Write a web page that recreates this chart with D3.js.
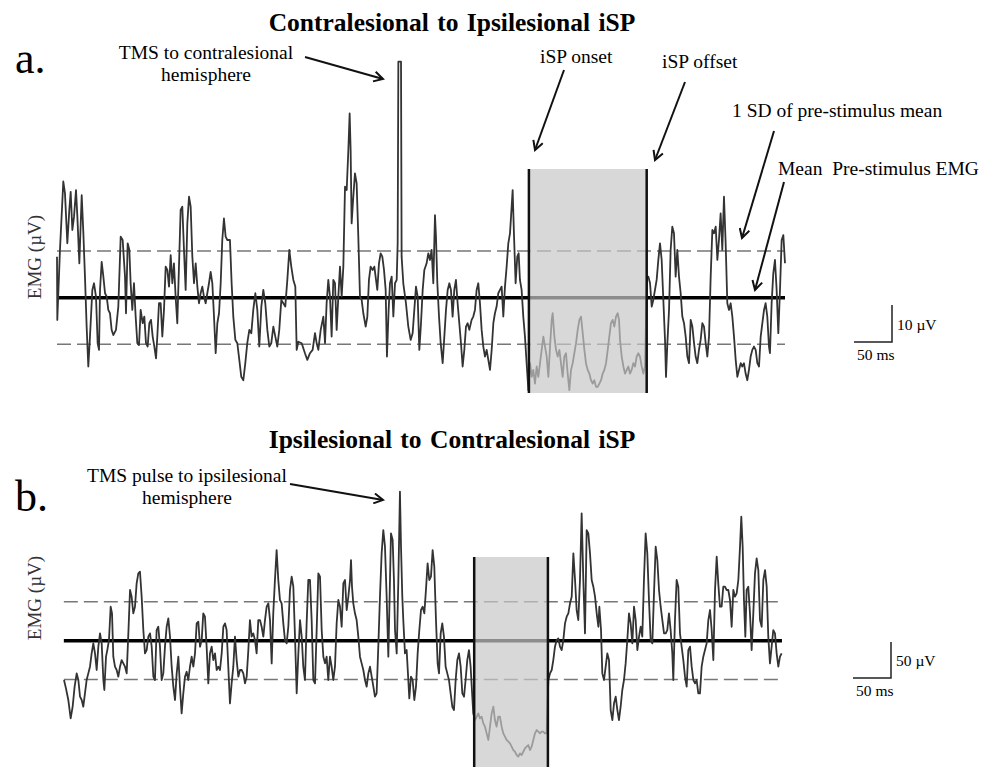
<!DOCTYPE html>
<html>
<head>
<meta charset="utf-8">
<script src="https://cdn.jsdelivr.net/npm/d3@7"></script>
<style>
  body { margin: 0; background: #fff; }
  svg { display: block; font-family: "Liberation Serif", "Times New Roman", serif; }
</style>
</head>
<body>
<svg id="chart" width="989" height="767"></svg>
<script>
// time in ms from start of sweep, EMG in µV relative to the pre-stimulus mean
const emgA = [
  [0,11.1],[0.4,-6.0],[3.9,12.9],[8.3,31.4],[10.5,28.2],[13.6,14.7],[16.2,23.7],[18.0,28.6],[20.2,18.3],[22.4,21.9],
  [25.0,29.1],[26.8,21.9],[29.4,9.3],[32.5,27.7],[34.7,17.4],[36.8,5.7],[39.0,-7.8],[41.2,-18.6],[43.4,-10.5],[46.5,2.1],
  [48.7,3.9],[51.3,0.3],[53.5,-12.3],[55.3,-14.1],[56.6,2.1],[58.8,9.7],[61.0,5.7],[63.2,1.2],[65.4,0.3],[67.5,-3.3],
  [69.7,-4.2],[71.9,-8.7],[74.1,-10.1],[77.6,-8.7],[80.7,-2.4],[83.8,16.5],[86.4,15.6],[89.5,5.7],[90.8,-4.2],[93.0,14.7],
  [95.2,12.9],[96.9,3.9],[99.1,-3.3],[101.3,3.9],[103.5,-5.1],[105.7,-12.3],[107.9,-12.8],[110.1,-3.3],[112.7,-6.9],[114.9,-5.1],
  [117.1,-12.3],[119.3,-13.2],[121.5,-6.9],[123.7,-6.0],[125.9,-10.5],[128.1,-13.2],[130.3,-16.4],[132.0,-10.5],[134.2,-1.5],[136.4,-1.5],
  [138.6,-10.5],[140.8,-3.3],[143.0,8.4],[145.2,7.5],[147.4,3.0],[149.6,11.5],[151.8,3.9],[153.9,9.3],[156.1,0.3],[158.3,-6.9],
  [160.5,8.4],[162.7,23.7],[164.9,24.6],[167.1,12.9],[169.3,2.1],[171.5,20.1],[173.7,27.3],[175.9,24.6],[178.1,11.1],[180.3,3.9],
  [182.5,9.3],[184.7,3.0],[186.8,-1.5],[189.0,1.2],[191.2,3.0],[193.4,0.3],[195.6,-1.5],[197.8,1.2],[200.0,3.9],[202.2,7.0],
  [204.4,3.9],[206.6,-5.1],[208.8,-15.0],[211.0,-6.9],[213.2,-4.2],[215.4,3.9],[217.5,15.6],[219.7,21.4],[221.9,16.5],[224.1,15.6],
  [227.6,15.6],[229.8,3.9],[232.0,-5.1],[234.7,-11.4],[237.3,-12.3],[239.9,-16.8],[242.5,-21.4],[245.2,-22.3],[247.8,-17.7],[250.4,-12.3],
  [253.1,-8.7],[255.7,-9.6],[258.3,-3.3],[261.0,1.2],[263.6,-3.3],[266.2,-13.2],[268.9,-2.4],[271.5,2.1],[274.1,-1.5],[276.8,-8.7],
  [279.4,-13.2],[282.0,-12.3],[284.7,-7.8],[287.3,-10.5],[289.9,-13.2],[292.5,-8.7],[295.2,-0.6],[297.8,-1.5],[300.4,-2.4],[303.1,4.8],
  [305.7,12.9],[308.3,8.4],[311.0,4.8],[313.6,3.0],[315.4,-14.1],[317.6,-11.9],[322.0,-12.3],[326.3,-15.0],[329.4,-16.8],[332.9,-15.0],
  [336.4,-14.1],[339.5,-9.6],[341.7,-12.3],[343.9,-14.1],[347.0,-8.7],[350.5,-5.1],[352.7,-12.3],[354.8,-1.5],[357.0,4.8],[359.2,0.3],
  [361.4,-10.5],[363.6,4.8],[365.8,3.9],[368.0,-8.7],[370.2,0.3],[372.4,8.4],[374.6,0.3],[376.8,8.4],[379.0,30.0],[381.2,29.1],
  [383.4,39.9],[385.1,49.8],[386.4,39.9],[387.7,20.1],[389.9,27.3],[392.1,33.6],[394.3,30.9],[396.5,16.5],[398.7,0.3],[400.9,-0.6],
  [403.1,-4.2],[406.2,-7.8],[408.4,-5.1],[410.5,4.8],[412.7,8.4],[415.4,7.5],[417.6,8.4],[419.8,4.8],[421.5,2.1],[423.7,9.3],
  [425.9,12.0],[428.1,11.1],[430.3,7.5],[432.5,2.1],[434.2,-15.9],[436.4,-3.3],[438.2,3.9],[440.4,5.7],[442.6,-5.1],[444.8,3.9],
  [447.0,4.8],[448.3,14.7],[449.2,63.8],[452.7,63.8],[453.5,11.1],[455.7,3.9],[459.2,-1.5],[462.3,-7.8],[465.4,-11.4],[468.0,-9.6],
  [470.2,-3.3],[472.4,3.0],[474.6,0.3],[476.8,-14.1],[479.0,-6.9],[481.2,2.1],[483.4,7.5],[486.4,9.3],[488.6,12.0],[490.8,10.2],
  [493.0,12.9],[495.2,3.9],[497.4,22.3],[498.7,16.5],[500.5,3.9],[502.7,-5.1],[504.9,-12.3],[507.5,-17.7],[509.7,-10.5],[511.9,-3.3],
  [514.1,2.1],[516.3,3.9],[518.4,2.1],[520.6,-5.1],[522.8,2.1],[525.0,4.8],[527.2,-1.5],[529.4,-6.9],[531.6,-12.3],[533.8,-18.6],
  [536.0,-14.1],[538.2,-7.8],[540.4,-6.9],[542.6,-8.7],[545.6,-6.0],[547.8,-5.1],[550.0,-3.3],[552.2,2.1],[554.4,3.9],[556.6,-1.5],
  [558.8,-8.7],[561.0,-13.2],[563.2,-15.9],[565.4,-14.1],[567.6,-16.8],[569.8,-19.5],[572.0,-14.1],[574.2,-6.9],[576.3,-4.2],[578.5,-2.4],
  [580.7,1.2],[582.9,2.1],[585.1,3.0],[587.3,-5.1],[589.5,3.0],[591.7,8.4],[593.9,14.7],[596.1,17.4],[598.3,24.6],[599.6,29.1],
  [601.3,17.4],[603.5,3.9],[605.7,11.1],[607.5,12.0],[609.2,4.8],[611.4,2.1],[613.6,-5.1],[615.8,-10.5],[618.0,-17.7],[620.3,-25.0],
  [622.5,-17.7],[624.7,-21.4],[626.8,-19.5],[629.0,-23.2],[631.2,-18.6],[633.4,-21.4],[635.6,-17.7],[637.8,-14.1],[640.0,-10.5],[642.2,-13.2],
  [644.4,-15.9],[646.6,-21.4],[648.8,-13.2],[651.0,-6.0],[652.3,-4.2],[654.5,-10.5],[656.7,-14.1],[658.9,-15.9],[661.1,-14.1],[663.2,-17.7],
  [665.4,-21.4],[667.6,-15.9],[669.8,-15.0],[672.0,-20.5],[674.2,-25.0],[676.4,-19.5],[678.6,-17.7],[680.8,-15.0],[683.0,-12.3],[685.2,-8.7],
  [687.4,-6.0],[689.6,-5.1],[691.8,-9.6],[694.0,-14.1],[696.1,-17.7],[698.3,-19.5],[700.5,-20.5],[702.7,-22.3],[704.9,-23.2],[707.1,-22.3],
  [709.3,-24.1],[711.5,-24.1],[713.7,-23.2],[715.9,-22.3],[718.1,-20.5],[720.3,-19.5],[722.5,-17.7],[724.7,-14.1],[726.8,-10.5],[729.0,-6.9],
  [731.2,-6.0],[733.4,-7.8],[735.6,-5.1],[737.8,-4.2],[739.6,-6.0],[740.9,-11.4],[743.1,-15.9],[745.3,-18.6],[747.5,-20.5],[749.7,-19.5],
  [751.8,-18.6],[754.0,-20.5],[756.2,-19.5],[758.4,-17.7],[760.6,-18.6],[762.8,-15.9],[765.0,-15.0],[767.2,-15.9],[769.4,-18.6],[771.6,-20.5],
  [773.8,-18.6],[776.4,5.7],[778.2,5.7],[780.4,3.9],[782.6,-2.4],[784.7,-0.6],[786.9,2.1],[789.1,4.8],[791.3,10.2],[793.5,14.7],
  [795.7,10.2],[797.9,-0.6],[800.1,-11.4],[801.4,-21.4],[803.2,-12.3],[805.4,-3.3],[807.5,12.9],[809.7,19.2],[811.9,17.4],[814.1,5.7],
  [816.3,12.9],[818.5,5.7],[820.7,1.2],[822.9,-5.1],[825.1,-6.9],[827.3,-10.5],[829.5,-15.9],[831.7,-17.7],[833.9,-6.0],[836.1,-7.8],
  [838.3,-12.3],[840.4,-15.9],[842.6,-17.7],[844.8,-14.1],[847.0,-11.4],[849.2,-6.9],[851.4,-7.8],[853.6,-12.3],[855.8,-15.9],[858.0,-10.5],
  [860.2,5.7],[862.4,18.3],[864.6,17.4],[866.8,19.2],[869.0,10.2],[871.1,15.6],[873.3,22.8],[875.5,12.9],[877.7,27.3],[879.9,14.7],
  [882.1,-1.5],[884.3,-3.3],[886.5,-1.5],[888.7,-5.1],[890.9,-10.5],[893.1,-16.8],[895.3,-21.4],[897.5,-19.5],[899.7,-17.7],[901.8,-18.6],
  [904.0,-17.7],[906.2,-20.5],[908.4,-22.3],[910.6,-19.5],[912.8,-15.9],[915.0,-14.1],[917.2,-13.2],[919.4,-14.1],[921.6,-17.7],[923.8,-18.6],
  [926.0,-10.5],[928.2,-6.9],[930.4,-3.3],[932.5,-1.5],[934.7,-5.1],[936.9,-13.2],[938.2,-15.0],[940.4,-1.5],[942.6,6.6],[944.8,10.2],
  [947.0,2.1],[949.2,-9.6],[951.4,2.1],[953.6,15.6],[955.8,16.9],[958.0,9.3]
];

const emgB = [
  [9.2,-54.6],[11.8,-66.2],[14.9,-82.4],[18.0,-107.9],[20.6,-91.7],[23.2,-63.9],[25.9,-45.4],[28.1,-54.6],[30.3,-77.8],[32.5,-82.4],
  [34.6,-91.7],[36.8,-73.1],[39.0,-54.6],[41.2,-45.4],[43.4,-36.1],[45.6,-17.6],[47.8,-3.7],[50.0,-17.6],[52.2,-40.7],[54.4,-8.3],
  [56.6,10.2],[58.8,-3.7],[61.0,-54.6],[62.3,-68.5],[64.5,-22.2],[66.2,-13.0],[68.4,0.9],[70.6,47.2],[72.4,38.0],[74.1,-22.2],
  [76.3,-36.1],[78.5,-40.7],[80.7,-50.0],[82.9,-36.1],[85.1,-26.9],[87.3,-31.5],[89.5,-36.1],[91.7,-45.4],[93.9,10.2],[96.1,70.4],
  [98.2,61.1],[100.4,38.0],[102.6,47.2],[104.8,79.6],[107.0,93.5],[109.2,95.8],[111.4,61.1],[113.6,14.8],[115.8,-17.6],[118.0,-13.0],
  [120.2,5.6],[122.4,10.2],[124.6,-8.3],[126.8,-50.0],[128.9,-54.6],[131.1,14.8],[133.3,19.4],[135.5,-8.3],[137.7,-54.6],[139.9,-45.4],
  [142.1,-8.3],[144.3,19.4],[146.5,31.0],[148.7,5.6],[150.9,-36.1],[153.1,-63.9],[155.3,-82.4],[157.5,-45.4],[159.7,-22.2],[161.8,-63.9],
  [164.0,-100.9],[166.2,-73.1],[168.4,-50.0],[170.6,-43.1],[172.8,-54.6],[175.0,-36.1],[177.2,-22.2],[179.4,-36.1],[181.6,-17.6],[183.8,24.1],
  [186.0,26.4],[188.2,-8.3],[190.4,0.9],[192.5,38.0],[194.7,33.3],[196.9,-8.3],[199.1,-59.3],[201.3,-17.6],[203.5,-8.3],[205.7,-26.9],
  [207.9,-17.6],[210.1,-40.7],[212.3,-36.1],[214.5,-40.7],[216.7,-17.6],[218.9,19.4],[221.1,24.1],[223.2,14.8],[225.4,-36.1],[227.6,-87.0],
  [229.8,-59.3],[232.0,-36.1],[234.2,5.6],[236.4,-26.9],[238.6,-50.0],[240.8,-40.7],[243.0,-40.7],[245.2,-45.4],[247.4,-59.3],[249.6,-50.0],
  [251.8,-13.0],[253.9,28.7],[256.1,5.6],[258.3,10.2],[260.5,0.9],[262.7,-17.6],[264.9,28.7],[267.1,28.7],[269.3,19.4],[271.5,5.6],
  [273.7,28.7],[275.9,47.2],[278.1,51.9],[280.3,28.7],[282.5,-31.5],[284.6,38.0],[286.8,84.3],[289.0,125.9],[291.2,84.3],[293.4,56.5],
  [295.6,51.9],[297.8,24.1],[300.0,0.9],[302.2,-3.7],[304.4,19.4],[306.6,70.4],[308.8,88.9],[311.0,75.0],[313.2,5.6],[315.4,-73.1],
  [317.6,-17.6],[319.8,28.7],[322.0,5.6],[324.1,-36.1],[326.3,-54.6],[328.5,24.1],[330.7,84.3],[332.9,84.3],[335.1,28.7],[337.3,-54.6],
  [339.5,-59.3],[341.7,14.8],[343.9,93.5],[346.1,88.9],[348.3,14.8],[350.5,-22.2],[352.7,-31.5],[354.8,-22.2],[357.0,-54.6],[359.2,-22.2],
  [361.4,-36.1],[363.6,-54.6],[365.8,-36.1],[368.0,24.1],[370.2,56.5],[372.4,47.2],[374.6,19.4],[376.8,79.6],[379.0,84.3],[381.2,42.6],
  [383.4,61.1],[385.6,84.3],[386.9,112.0],[388.2,75.0],[389.9,51.9],[392.1,38.0],[394.3,28.7],[396.5,5.6],[398.7,-22.2],[400.9,-31.5],
  [403.1,-40.7],[405.3,-54.6],[407.5,-63.9],[409.7,-45.4],[411.9,-36.1],[414.1,-50.0],[416.3,-63.9],[418.4,-77.8],[420.6,-73.1],[422.8,-8.3],
  [425.0,61.1],[427.2,121.3],[429.4,153.7],[431.6,130.6],[433.8,61.1],[436.0,-22.2],[438.2,84.3],[439.5,149.1],[441.7,139.8],[443.4,84.3],
  [444.8,14.8],[447.0,-17.6],[449.2,84.3],[451.3,206.9],[452.7,130.6],[454.4,61.1],[455.7,28.7],[457.9,-17.6],[460.1,-13.0],[462.3,-54.6],
  [463.6,-80.1],[465.8,-50.0],[468.0,-54.6],[470.2,-82.4],[472.4,-63.9],[474.6,-17.6],[476.8,14.8],[479.0,42.6],[481.2,47.2],[483.4,38.0],
  [485.5,70.4],[487.7,107.4],[489.9,84.3],[492.1,88.9],[494.3,125.9],[496.5,102.8],[498.7,28.7],[500.9,-31.5],[502.7,-45.4],[504.9,10.2],
  [507.0,24.1],[509.2,5.6],[511.4,-36.1],[513.6,-45.4],[515.8,-54.6],[518.0,-73.1],[520.2,-91.7],[522.4,-96.3],[524.6,-54.6],[526.8,-26.9],
  [529.0,-17.6],[531.2,-36.1],[533.4,-73.1],[535.6,-77.8],[537.7,-54.6],[539.9,-26.9],[542.1,-13.0],[544.3,-36.1],[546.5,-77.8],[547.8,-100.9],
  [550.0,-110.2],[552.2,-105.6],[554.4,-100.9],[556.6,-107.9],[558.8,-105.6],[561.0,-114.8],[563.2,-119.4],[565.4,-128.7],[567.6,-137.9],[569.8,-119.4],
  [572.0,-100.9],[574.2,-91.7],[576.3,-110.2],[578.5,-119.4],[580.7,-105.6],[582.9,-105.6],[585.1,-119.4],[587.3,-128.7],[589.5,-133.3],[591.7,-137.9],
  [593.9,-140.3],[596.1,-142.6],[598.3,-147.2],[600.5,-151.9],[602.7,-154.2],[604.9,-158.8],[607.0,-161.1],[609.2,-156.5],[611.4,-158.8],[613.6,-154.2],
  [615.8,-149.5],[618.0,-147.2],[620.2,-144.9],[622.4,-151.9],[624.6,-147.2],[626.8,-137.9],[629.0,-128.7],[631.2,-124.1],[633.4,-126.4],[635.6,-128.7],
  [637.7,-126.4],[639.9,-126.4],[642.1,-128.7],[644.3,-128.7],[646.6,-54.6],[648.8,-45.4],[651.0,-40.7],[653.1,-26.9],[655.3,-8.3],[657.5,0.9],
  [659.7,3.2],[661.9,-8.3],[664.1,-13.0],[666.3,0.9],[668.5,24.1],[670.7,33.3],[672.9,38.0],[675.1,51.9],[677.3,61.1],[679.5,121.3],
  [681.7,84.3],[683.8,42.6],[686.0,28.7],[688.2,84.3],[690.4,176.9],[692.6,84.3],[694.8,10.2],[697.0,153.7],[699.2,149.1],[701.4,121.3],
  [703.6,84.3],[705.8,75.0],[708.0,61.1],[710.2,38.0],[712.4,19.4],[713.7,47.2],[715.9,14.8],[717.6,-45.4],[719.8,-54.6],[722.0,-36.1],
  [724.2,-17.6],[726.4,-26.9],[728.6,-96.3],[730.8,-110.2],[733.0,-87.0],[735.2,-77.8],[737.4,-96.3],[739.5,-110.2],[741.7,-91.7],[743.9,-68.5],
  [746.1,-54.6],[748.3,-31.5],[750.5,0.9],[752.7,38.0],[754.9,24.1],[757.1,-3.7],[759.3,47.2],[761.5,28.7],[763.7,-13.0],[765.9,5.6],
  [768.1,19.4],[770.2,5.6],[772.4,84.3],[774.6,149.1],[776.8,121.3],[779.0,56.5],[781.2,0.9],[783.4,-3.7],[785.6,65.7],[787.8,130.6],
  [790.0,112.0],[792.2,70.4],[794.4,47.2],[796.6,28.7],[798.8,10.2],[801.0,10.2],[803.1,14.8],[805.3,38.0],[807.5,14.8],[809.7,-17.6],
  [811.0,-54.6],[813.2,28.7],[815.4,84.3],[817.6,75.0],[819.8,10.2],[822.0,-8.3],[824.2,-26.9],[826.4,-50.0],[828.6,-63.9],[830.8,-13.0],
  [833.0,-8.3],[835.2,-36.1],[837.4,-54.6],[839.6,-59.3],[841.7,-54.6],[843.9,-73.1],[846.1,-73.1],[848.3,-36.1],[850.5,-22.2],[852.7,-13.0],
  [854.9,-3.7],[857.1,28.7],[859.3,42.6],[861.5,14.8],[863.7,-26.9],[865.9,70.4],[868.1,116.7],[870.2,79.6],[872.4,47.2],[874.6,47.2],
  [876.8,75.0],[879.0,75.0],[881.2,70.4],[883.4,70.4],[885.6,56.5],[887.8,19.4],[890.0,70.4],[892.2,61.1],[894.4,65.7],[896.6,84.3],
  [898.8,130.6],[900.5,172.2],[902.3,130.6],[904.0,56.5],[905.8,5.6],[907.5,70.4],[909.7,75.0],[911.9,38.0],[914.1,-13.0],[916.3,38.0],
  [918.5,93.5],[920.7,114.4],[922.9,98.1],[925.1,28.7],[927.3,19.4],[929.5,84.3],[931.7,98.1],[933.9,75.0],[936.0,5.6],[938.2,-31.5],
  [940.4,-8.3],[942.6,14.8],[944.8,10.2],[947.0,-17.6],[949.2,-36.1],[951.4,-22.2],[953.6,-17.6]
];

const sdA = 12.6;            // µV
const sdB = 54;              // µV
const sweepA = [0, 958];     // ms
const sweepB = [9, 954];
const ispA = [621, 776];     // onset, offset (ms)
const ispB = [549, 646];
const titles = ['Contralesional to Ipsilesional iSP', 'Ipsilesional to Contralesional iSP'];
const barA = { ms: 50, uV: 10 };
const barB = { ms: 50, uV: 50 };

const svg = d3.select('#chart');

const x = d3.scaleLinear().domain([0, 958]).range([57, 785]);
const yA = d3.scaleLinear().domain([0, 10]).range([297.7, 260.7]);
const yB = d3.scaleLinear().domain([0, 50]).range([640.7, 604.7]);

// arrowhead
svg.append('defs').append('marker')
  .attr('id', 'arrow')
  .attr('viewBox', '0 0 12 12')
  .attr('refX', 10).attr('refY', 6)
  .attr('markerWidth', 12).attr('markerHeight', 12)
  .attr('markerUnits', 'userSpaceOnUse')
  .attr('orient', 'auto')
  .append('path')
  .attr('d', 'M1,1 L10,6 L1,11')
  .attr('fill', 'none')
  .attr('stroke', '#111')
  .attr('stroke-width', 2);

function drawPanel(cfg) {
  const g = svg.append('g');
  const y = cfg.y;

  // ±1 SD
  [cfg.sd, -cfg.sd].forEach(s => {
    g.append('line')
      .attr('x1', x(cfg.sweep[0])).attr('x2', x(cfg.sweep[1]))
      .attr('y1', y(s)).attr('y2', y(s))
      .attr('stroke', '#777')
      .attr('stroke-width', 1.5)
      .attr('stroke-dasharray', '14,6');
  });

  // pre-stimulus mean
  g.append('line')
    .attr('x1', x(cfg.sweep[0])).attr('x2', x(cfg.sweep[1]))
    .attr('y1', y(0)).attr('y2', y(0))
    .attr('stroke', '#000')
    .attr('stroke-width', 3.5);

  const line = d3.line().x(d => x(d[0])).y(d => y(d[1]));
  g.append('path')
    .datum(cfg.data)
    .attr('d', line)
    .attr('fill', 'none')
    .attr('stroke', '#333')
    .attr('stroke-width', 1.8)
    .attr('stroke-linejoin', 'round');

  // silent period shading
  g.append('rect')
    .attr('x', x(cfg.isp[0])).attr('width', x(cfg.isp[1]) - x(cfg.isp[0]))
    .attr('y', cfg.shadeTop).attr('height', cfg.shadeBottom - cfg.shadeTop)
    .attr('fill', '#c8c8c8')
    .attr('fill-opacity', 0.7);

  cfg.isp.forEach(t => {
    g.append('line')
      .attr('x1', x(t)).attr('x2', x(t))
      .attr('y1', cfg.shadeTop).attr('y2', cfg.shadeBottom)
      .attr('stroke', '#111')
      .attr('stroke-width', 2.5);
  });

  // title + panel letter
  g.append('text')
    .attr('x', 452).attr('y', cfg.titleY)
    .attr('text-anchor', 'middle')
    .style('font-size', '25.5px')
    .style('font-weight', 'bold')
    .style('word-spacing', '2px')
    .text(cfg.title);

  g.append('text')
    .attr('x', 15).attr('y', cfg.letterY)
    .style('font-size', '44px')
    .text(cfg.letter);

  g.append('text')
    .attr('transform', `translate(41,${cfg.labelY}) rotate(-90)`)
    .attr('text-anchor', 'middle')
    .attr('fill', '#333')
    .style('font-size', '19px')
    .text('EMG (µV)');

  // scale bar
  const bx = cfg.barX, by = cfg.barY;
  const w = x(cfg.bar.ms) - x(0);
  const h = y(0) - y(cfg.bar.uV);
  g.append('path')
    .attr('d', `M${bx - w},${by} L${bx},${by} L${bx},${by - h}`)
    .attr('fill', 'none')
    .attr('stroke', '#222')
    .attr('stroke-width', 1.5);
  g.append('text')
    .attr('x', bx + 5).attr('y', by - h / 2 + 6)
    .style('font-size', '15.5px')
    .text(`${cfg.bar.uV} µV`);
  g.append('text')
    .attr('x', bx - w + 3).attr('y', by + 18)
    .style('font-size', '15.5px')
    .text(`${cfg.bar.ms} ms`);

  return g;
}

const gA = drawPanel({
  data: emgA, y: yA, sd: sdA, sweep: sweepA, isp: ispA,
  shadeTop: 169, shadeBottom: 393,
  title: titles[0], titleY: 31, letter: 'a.', letterY: 73, labelY: 257,
  bar: barA, barX: 892, barY: 342
});

const gB = drawPanel({
  data: emgB, y: yB, sd: sdB, sweep: sweepB, isp: ispB,
  shadeTop: 557, shadeBottom: 767,
  title: titles[1], titleY: 448, letter: 'b.', letterY: 511, labelY: 598,
  bar: barB, barX: 891, barY: 678
});

// annotations
function note(lines, x0, y0, anchor) {
  const t = svg.append('text')
    .attr('text-anchor', anchor)
    .style('font-size', '19.5px')
    .style('white-space', 'pre');
  lines.forEach((s, i) => {
    t.append('tspan').attr('x', s.x ?? x0).attr('y', y0 + i * 22).text(s.text ?? s);
  });
}
function arrow(x1, y1, x2, y2) {
  svg.append('line')
    .attr('x1', x1).attr('y1', y1).attr('x2', x2).attr('y2', y2)
    .attr('stroke', '#111')
    .attr('stroke-width', 2)
    .attr('marker-end', 'url(#arrow)');
}

note(['TMS to contralesional', 'hemisphere'], 206, 59, 'middle');
arrow(305, 57, 383, 79);
note(['iSP onset'], 540, 63, 'start');
arrow(564, 70, 535, 150);
note(['iSP offset'], 662, 68, 'start');
arrow(685, 82, 655, 160);
note(['1 SD of pre-stimulus mean'], 732, 117, 'start');
arrow(774, 131, 742, 238);
note(['Mean  Pre-stimulus EMG'], 778, 175, 'start');
arrow(784, 182, 755, 290);

note([{ text: 'TMS pulse to ipsilesional', x: 87 }, { text: 'hemisphere', x: 142 }], 87, 482, 'start');
arrow(290, 484, 383, 500);
</script>
</body>
</html>
